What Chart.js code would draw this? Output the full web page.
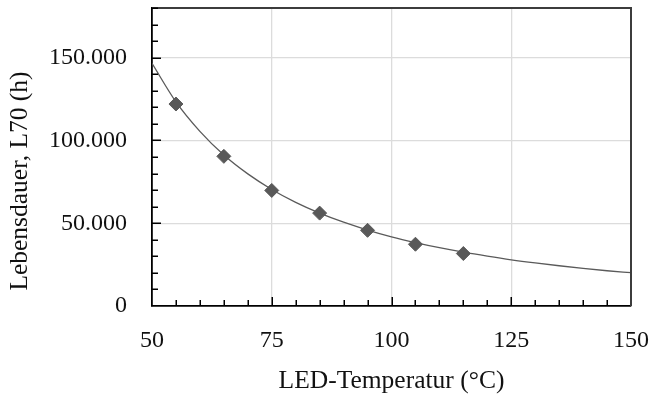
<!DOCTYPE html>
<html>
<head>
<meta charset="utf-8">
<script src="https://cdn.jsdelivr.net/npm/chart.js@4/dist/chart.umd.min.js"></script>
<style>
  html, body { margin: 0; padding: 0; background: #fff; }
  #wrap { width: 651px; height: 396px; }
</style>
</head>
<body>
<div id="wrap"><canvas id="c" width="651" height="396"></canvas></div>
<script>
// Measured lifetime L70 per LED temperature
const temperatures = [55, 65, 75, 85, 95, 105, 115];
const lifetimes = [122000, 90400, 69800, 56100, 45700, 37300, 31700];

// Trend curve through the measurements
const trendTemps = [50, 55, 60, 65, 70, 75, 80, 85, 90, 95, 100, 105, 110, 115, 120, 125, 130, 135, 140, 145, 150];
const trendLifetimes = [146600, 123300, 105500, 91200, 79800, 70400, 62600, 56100, 50600, 45900, 41800,
                        38300, 35200, 32500, 30100, 27900, 26000, 24300, 22700, 21300, 20100];

// Axis ticks
const xTickLabels = [50, 75, 100, 125, 150];
const yTickLabels = [0, 50000, 100000, 150000];
const xMinorStep = 5;
const yMinorStep = 10000;

const xTitle = 'LED-Temperatur (°C)';
const yTitle = 'Lebensdauer, L70 (h)';

const FONT = '"Liberation Serif", "Times New Roman", serif';

// Frame, inward tick marks and axis titles
const framePlugin = {
  id: 'frame',
  afterDraw(chart) {
    const { ctx, chartArea: a, scales: { x, y } } = chart;
    ctx.save();

    ctx.strokeStyle = '#3c3c3c';
    ctx.lineWidth = 2;
    ctx.beginPath();
    ctx.moveTo(a.left, a.top);
    ctx.lineTo(a.right, a.top);
    ctx.lineTo(a.right, a.bottom);
    ctx.stroke();

    ctx.strokeStyle = '#000';
    ctx.lineWidth = 1.5;
    ctx.beginPath();
    for (let v = x.min + xMinorStep; v < x.max; v += xMinorStep) {
      const px = Math.round(x.getPixelForValue(v)) + 0.25;
      const len = xTickLabels.includes(v) ? 9 : 6;
      ctx.moveTo(px, a.bottom);
      ctx.lineTo(px, a.bottom - len);
    }
    for (let v = y.min + yMinorStep; v <= y.max; v += yMinorStep) {
      const py = Math.round(y.getPixelForValue(v)) + 0.25;
      const len = yTickLabels.includes(v) ? 9 : 6;
      ctx.moveTo(a.left, py);
      ctx.lineTo(a.left + len, py);
    }
    ctx.stroke();

    ctx.fillStyle = '#111';
    ctx.font = '25.5px ' + FONT;
    ctx.textAlign = 'center';
    ctx.textBaseline = 'alphabetic';
    ctx.fillText(xTitle, (a.left + a.right) / 2, 388);

    ctx.translate(27, 181);
    ctx.rotate(-Math.PI / 2);
    ctx.fillText(yTitle, 0, 0);
    ctx.restore();
  }
};

const gridColor = (ends) => (c) =>
  (c.tick && !ends.includes(c.tick.value)) ? '#dcdcdc' : 'rgba(0,0,0,0)';

new Chart(document.getElementById('c'), {
  type: 'scatter',
  data: {
    datasets: [
      {
        label: 'L70',
        data: temperatures.map((t, i) => ({ x: t, y: lifetimes[i] })),
        pointStyle: 'rectRot',
        pointRadius: 7,
        pointHoverRadius: 7,
        backgroundColor: '#595959',
        borderColor: '#595959',
        borderWidth: 1,
        showLine: false,
        order: 0
      },
      {
        label: 'Trend',
        data: trendTemps.map((t, i) => ({ x: t, y: trendLifetimes[i] })),
        showLine: true,
        pointRadius: 0,
        borderColor: '#5a5a5a',
        borderWidth: 1.3,
        cubicInterpolationMode: 'monotone',
        fill: false,
        order: 1
      }
    ]
  },
  options: {
    responsive: false,
    animation: false,
    devicePixelRatio: 1,
    layout: { padding: { top: 7, right: 20, left: 0, bottom: 0 } },
    plugins: { legend: { display: false }, tooltip: { enabled: false } },
    scales: {
      x: {
        type: 'linear',
        min: 50,
        max: 150,
        afterFit: (s) => { s.height = 90; s.paddingLeft = 0; s.paddingRight = 0; },
        afterBuildTicks: (s) => { s.ticks = xTickLabels.map(v => ({ value: v })); },
        ticks: {
          autoSkip: false,
          maxRotation: 0,
          padding: 20,
          color: '#111',
          font: { family: FONT, size: 24 },
          callback: (v) => String(v)
        },
        grid: { drawTicks: false, color: gridColor([50, 150]), lineWidth: 1.3 },
        border: { display: true, color: '#000', width: 1.8 }
      },
      y: {
        type: 'linear',
        min: 0,
        max: 180000,
        afterFit: (s) => { s.width = 152; s.paddingTop = 0; s.paddingBottom = 0; },
        afterBuildTicks: (s) => { s.ticks = yTickLabels.map(v => ({ value: v })); },
        ticks: {
          autoSkip: false,
          padding: 25,
          color: '#111',
          font: { family: FONT, size: 24 },
          callback: (v) => v.toLocaleString('de-DE')
        },
        grid: { drawTicks: false, color: gridColor([0]), lineWidth: 1.3 },
        border: { display: true, color: '#000', width: 1.8 }
      }
    }
  },
  plugins: [framePlugin]
});
</script>
</body>
</html>
